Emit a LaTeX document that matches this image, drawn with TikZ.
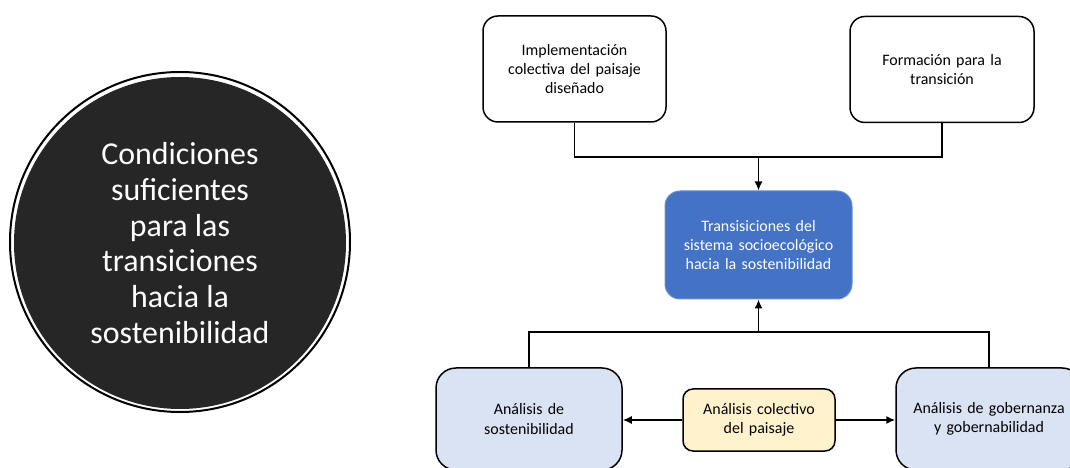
\documentclass[tikz,border=0pt]{standalone}
\usepackage{fontspec}
\setmainfont{Carlito}
\usetikzlibrary{arrows.meta}
\definecolor{circfill}{HTML}{262626}
\definecolor{bluebox}{HTML}{4472C4}
\definecolor{lightblue}{HTML}{DAE3F3}
\definecolor{lightyellow}{HTML}{FFF2CC}
\tikzset{
  boxbase/.style={draw=black, line width=1.5bp, align=center, inner sep=2bp,
    font=\fontsize{16}{19.5}\selectfont},
  topbox/.style={boxbase, fill=white, rounded corners=15bp,
    minimum width=183bp, minimum height=106bp, text width=170bp},
  bluestyle/.style={boxbase, draw=bluebox!80!white, line width=1bp, fill=bluebox, text=white,
    rounded corners=15bp, minimum width=187bp, minimum height=108bp, text width=175bp},
  lowbox/.style={boxbase, fill=lightblue, rounded corners=20bp,
    minimum width=186bp, minimum height=102bp, text width=178bp},
  yelbox/.style={boxbase, fill=lightyellow, rounded corners=10bp,
    minimum width=152bp, minimum height=62bp, text width=145bp},
  conn/.style={draw=black, line width=1.5bp},
  arr/.style={conn, -{Latex[length=9bp,width=8bp]}},
}
\begin{document}
\begin{tikzpicture}[x=1bp,y=-1bp]
\useasboundingbox (0,0) rectangle (1070,468);
\clip (0,0) rectangle (1070,468);
% circle
\node[circle, draw=black, line width=2bp, minimum size=340bp, inner sep=0pt] (ring) at (180,242) {};
\node[circle, fill=circfill, minimum size=332bp, inner sep=0pt, text=white, align=center,
  font=\fontsize{32}{35.8}\selectfont] (circ) at (180,243)
  {Condiciones\\suficientes\\para las\\transiciones\\hacia la\\sostenibilidad};
% boxes
\node[topbox] (impl) at (574.5,69) {Implementación\\colectiva del paisaje\\diseñado};
\node[topbox, minimum width=184bp] (form) at (942,69.5) {Formación para la\\transición};
\node[bluestyle] (blue) at (758.5,245) {Transisiciones del\\sistema socioecológico\\hacia la sostenibilidad};
\node[lowbox] (sost) at (529,419) {Análisis de\\sostenibilidad};
\node[lowbox] (gob) at (989,419) {Análisis de gobernanza\\y gobernabilidad};
\node[yelbox] (yel) at (759,420) {Análisis colectivo\\del paisaje};
% connectors
\coordinate (jt) at (758.5,157);
\coordinate (jb) at (758.5,332);
\draw[conn] (impl.south) |- (jt) -| (form.south);
\draw[arr] (jt) -- (blue.north);
\draw[conn] (sost.north) |- (jb) -| (gob.north);
\draw[arr] (jb) -- (blue.south);
\draw[arr] (yel.west) -- (yel.west -| sost.east);
\draw[arr] (yel.east) -- (yel.east -| gob.west);
\end{tikzpicture}
\end{document}
